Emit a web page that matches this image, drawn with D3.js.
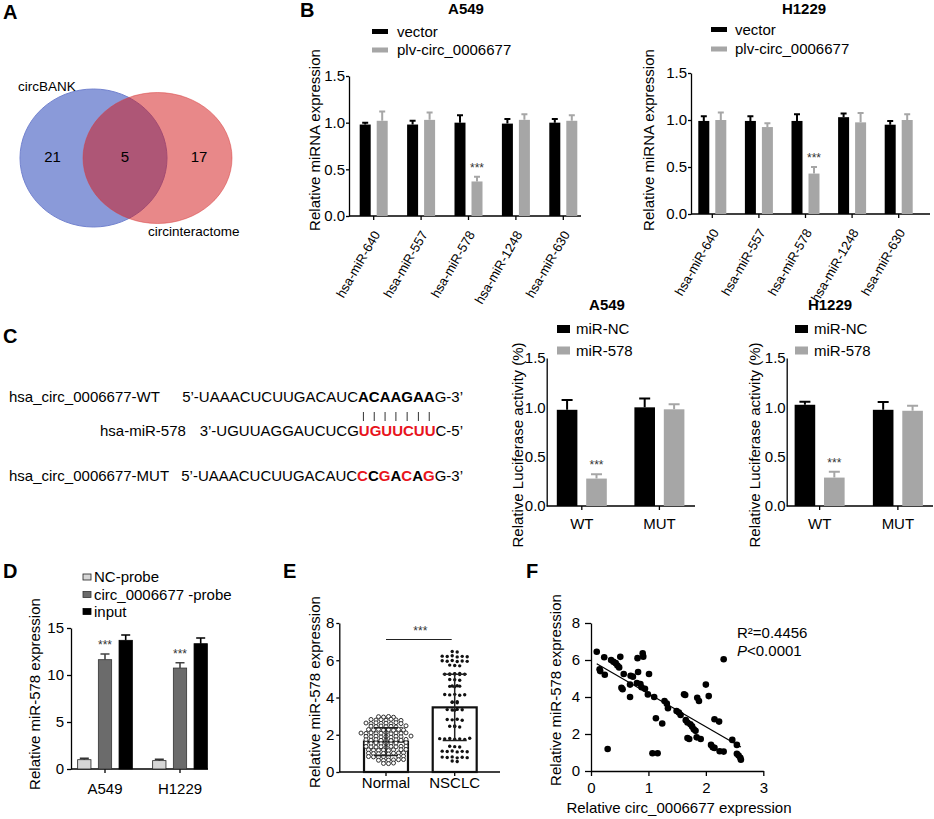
<!DOCTYPE html>
<html>
<head>
<meta charset="utf-8">
<script src="https://cdn.jsdelivr.net/npm/d3@7"></script>
<style>
    body { margin: 0; background: #fff; }
    svg { display: block; font-family: Arial, "Liberation Sans", sans-serif; }
    .axis path, .axis line { stroke: #000; stroke-width: 1.3; }
    .axis text { font-size: 15px; fill: #000; font-family: Arial, "Liberation Sans", sans-serif; }
</style>
</head>
<body>
<div id="figure"></div>
<script>
// ---------- data ----------
let vennSets = ['circBANK', 'circinteractome'];
let vennCounts = [21, 5, 17];

let bMirs = ['hsa-miR-640', 'hsa-miR-557', 'hsa-miR-578', 'hsa-miR-1248', 'hsa-miR-630'];
let bSeries = ['vector', 'plv-circ_0006677'];
let bTicks = [0, 0.5, 1.0, 1.5];
let bA549Vector = [0.98, 0.98, 1.00, 0.99, 1.00];
let bA549VectorErr = [0.02, 0.04, 0.08, 0.05, 0.04];
let bA549Plv = [1.02, 1.03, 0.37, 1.03, 1.02];
let bA549PlvErr = [0.10, 0.08, 0.05, 0.06, 0.06];
let bH1229Vector = [0.99, 0.99, 0.99, 1.03, 0.95];
let bH1229VectorErr = [0.05, 0.05, 0.07, 0.04, 0.04];
let bH1229Plv = [1.00, 0.925, 0.43, 0.975, 1.00];
let bH1229PlvErr = [0.08, 0.04, 0.07, 0.10, 0.06];
let bSig = ['hsa-miR-578'];

let cSeqLabels = ['hsa_circ_0006677-WT', 'hsa-miR-578', 'hsa_circ_0006677-MUT'];
// 0 = plain, 1 = bold, 2 = red bold
let cSeqParts = [
    [['5\u2019-UAAACUCUUGACAUC', 0], ['ACAAGAA', 1], ['G-3\u2019', 0]],
    [['3\u2019-UGUUAGGAUCUCG', 0], ['UGUUCUU', 2], ['C-5\u2019', 0]],
    [['5\u2019-UAAACUCUUGACAUC', 0], ['C', 2], ['C', 1], ['G', 2], ['A', 1], ['C', 2], ['A', 1], ['G', 2], ['G-3\u2019', 0]]
];

let cGroups = ['WT', 'MUT'];
let cSeries = ['miR-NC', 'miR-578'];
let cTicks = [0, 0.5, 1.0, 1.5];
let cA549NC = [0.975, 1.00];
let cA549NCErr = [0.10, 0.09];
let cA549Mir = [0.278, 0.98];
let cA549MirErr = [0.045, 0.05];
let cH1229NC = [1.026, 0.975];
let cH1229NCErr = [0.03, 0.08];
let cH1229Mir = [0.288, 0.965];
let cH1229MirErr = [0.06, 0.05];
let cSig = ['WT'];

let dGroups = ['A549', 'H1229'];
let dSeries = ['NC-probe', 'circ_0006677 -probe', 'input'];
let dTicks = [0, 5, 10, 15];
let dNC = [0.99, 0.89];
let dNCErr = [0.14, 0.14];
let dCirc = [11.63, 10.74];
let dCircErr = [0.60, 0.57];
let dInput = [13.69, 13.33];
let dInputErr = [0.57, 0.60];

let eGroups = ['Normal', 'NSCLC'];
let eTicks = [0, 2, 4, 6, 8];
let eMean = [1.63, 3.47];
let eSD = [0.74, 1.78];
let eNormal = [2.97, 2.95, 2.98, 2.94,
    2.82, 2.79, 2.81, 2.78, 2.83, 2.80, 2.77,
    2.63, 2.60, 2.64, 2.61, 2.62, 2.59, 2.65, 2.60,
    2.46, 2.44, 2.47, 2.43, 2.45, 2.48, 2.42,
    2.28, 2.26, 2.29, 2.25, 2.27, 2.30, 2.24, 2.28, 2.26,
    2.09, 2.07, 2.10, 2.06, 2.08, 2.11, 2.05, 2.09, 2.07, 2.10,
    1.91, 1.89, 1.92, 1.88, 1.90, 1.93, 1.87, 1.91, 1.89,
    1.73, 1.71, 1.74, 1.70, 1.72, 1.75, 1.69, 1.73, 1.71,
    1.55, 1.53, 1.56, 1.52, 1.54, 1.57, 1.51, 1.55,
    1.37, 1.35, 1.38, 1.34, 1.36, 1.39, 1.33, 1.37, 1.35,
    1.19, 1.17, 1.20, 1.16, 1.18, 1.21, 1.15, 1.19,
    1.01, 0.99, 1.02, 0.98, 1.00, 1.03, 0.97, 1.01,
    0.83, 0.81, 0.84, 0.80, 0.82, 0.85, 0.79,
    0.65, 0.63, 0.66, 0.62, 0.64, 0.67,
    0.48, 0.46, 0.45];
let eNSCLC = [6.47, 6.44,
    6.22, 6.20, 6.24, 6.18, 6.21, 6.19,
    5.97, 5.95, 5.99, 5.93, 5.96, 5.94,
    5.74, 5.72, 5.70,
    5.27, 5.25, 5.28, 5.24, 5.26, 5.23, 5.29, 5.25,
    4.97, 4.95, 4.93,
    4.62, 4.60, 4.63, 4.58, 4.61,
    4.16, 4.14, 4.17, 4.12, 4.15,
    3.76, 3.74, 3.77, 3.72,
    3.35, 3.33, 3.36, 3.31, 3.34,
    2.82, 2.80, 2.83, 2.78,
    2.46, 2.44, 2.47, 2.42,
    1.79, 1.77, 1.80, 1.76, 1.78, 1.75, 1.81,
    1.38, 1.36, 1.34,
    1.12, 1.10, 1.13, 1.08, 1.11, 1.09,
    0.80, 0.78, 0.81, 0.76, 0.79, 0.77,
    0.59, 0.56];

let fXTicks = [0, 1, 2, 3];
let fYTicks = [0, 2, 4, 6, 8];
let fX = [0.10, 0.23, 0.15, 0.16, 0.24, 0.35, 0.39, 0.43, 0.46, 0.49,
    0.51, 0.57, 0.53, 0.55, 0.68, 0.69, 0.73, 0.68, 0.81, 0.82,
    0.80, 0.86, 0.88, 0.90, 0.91, 0.94, 1.01, 0.99, 1.10, 1.13,
    1.24, 1.07, 1.16, 0.29, 1.28, 1.32, 1.34, 1.49, 1.53, 1.56,
    1.62, 1.64, 1.65, 1.68, 1.73, 1.76, 1.79, 1.82, 1.68, 1.71,
    1.85, 1.88, 1.84, 1.91, 2.00, 2.05, 2.09, 2.12, 2.15, 2.15,
    2.23, 2.24, 2.31, 2.31, 2.46, 2.54, 2.54, 2.57, 2.60, 2.61];
let fY = [6.45, 6.15, 5.50, 5.40, 5.20, 6.00, 5.90, 5.83, 5.70, 5.60,
    6.17, 5.24, 4.50, 4.42, 4.00, 5.15, 5.10, 4.67, 6.10, 5.35,
    4.76, 4.70, 4.53, 6.36, 6.18, 4.44, 5.24, 4.14, 4.00, 2.85,
    2.57, 0.96, 0.96, 1.19, 3.78, 3.64, 3.39, 3.24, 3.16, 3.03,
    4.15, 4.11, 2.75, 2.62, 2.53, 2.41, 2.26, 2.17, 1.78, 1.73,
    3.96, 3.78, 1.82, 1.73, 4.67, 4.05, 1.41, 1.28, 1.25, 2.80,
    2.67, 1.07, 1.05, 6.04, 1.68, 1.41, 0.93, 0.84, 0.71, 0.61];
let fR2 = '0.4456';
let fP = '<0.0001';

// ---------- helpers ----------
let svg = d3.select('#figure').append('svg')
    .attr('width', 934)
    .attr('height', 819);
svg.append('rect').attr('width', 934).attr('height', 819).attr('fill', '#fff');

let fmt1 = d3.format('.1f');
let fmt0 = d3.format('d');

function addText(x, y, str, size, opts) {
    opts = opts || {};
    return svg.append('text')
        .attr('x', x)
        .attr('y', y)
        .attr('text-anchor', opts.anchor || 'start')
        .attr('font-weight', opts.bold ? 'bold' : null)
        .attr('fill', opts.fill || '#000')
        .style('font-size', size + 'px')
        .text(str);
}

function yLabel(str, x, y) {
    svg.append('text')
        .attr('transform', 'translate(' + x + ',' + y + ') rotate(-90)')
        .attr('text-anchor', 'middle')
        .attr('dy', '0.35em')
        .style('font-size', '15px')
        .text(str);
}

function yAxis(y, x, ticks, f, size, pad) {
    return svg.append('g')
        .attr('class', 'axis')
        .attr('transform', 'translate(' + x + ',0)')
        .call(d3.axisLeft(y).tickValues(ticks).tickFormat(f)
            .tickSize(size).tickSizeOuter(0).tickPadding(pad));
}

function legend(items, fills, strokes, x, tx, ys, w, h) {
    items.forEach(function (s, i) {
        svg.append('rect')
            .attr('x', x).attr('y', ys[i] - h / 2)
            .attr('width', w).attr('height', h)
            .attr('fill', fills[i])
            .attr('stroke', strokes ? strokes[i] : 'none')
            .attr('stroke-width', 0.8);
        svg.append('text')
            .attr('x', tx).attr('y', ys[i]).attr('dy', '0.35em')
            .style('font-size', '15px')
            .text(s);
    });
}

// grouped bars with upper error bars
function barPanel(o) {
    let x = d3.scaleBand().domain(o.groups).range(o.xRange);
    let inner = d3.scaleBand().domain(o.series)
        .range([-o.groupW / 2, o.groupW / 2])
        .paddingInner(o.innerPad);
    let y = d3.scaleLinear().domain([0, d3.max(o.ticks)]).range(o.yRange);

    yAxis(y, o.axisX, o.ticks, o.fmt, o.yTick, o.yPad);

    let xa = svg.append('g')
        .attr('class', 'axis')
        .attr('transform', 'translate(0,' + y(0) + ')')
        .call(d3.axisBottom(x).tickSize(4).tickSizeOuter(0));
    xa.select('.domain').attr('d', 'M' + o.axisX + ',0H' + o.axisEnd);

    let bw = inner.bandwidth();
    o.series.forEach(function (s, si) {
        let left = function (d) { return x(d) + x.bandwidth() / 2 + inner(s); };
        let vals = o.values[si];
        let errs = o.errors[si];

        svg.selectAll(null)
            .data(o.groups)
            .enter()
            .append('rect')
            .attr('x', left)
            .attr('y', function (d, i) { return y(vals[i]); })
            .attr('width', bw)
            .attr('height', function (d, i) { return y(0) - y(vals[i]); })
            .attr('fill', o.fills[si])
            .attr('stroke', o.strokes ? o.strokes[si] : 'none')
            .attr('stroke-width', 0.8);

        svg.selectAll(null)
            .data(o.groups)
            .enter()
            .append('path')
            .attr('d', function (d, i) {
                let cx = left(d) + bw / 2;
                let top = y(vals[i] + errs[i]);
                return 'M' + cx + ',' + y(vals[i]) + 'V' + top +
                    'M' + (cx - o.capW / 2) + ',' + top + 'H' + (cx + o.capW / 2);
            })
            .attr('fill', 'none')
            .attr('stroke', o.errColors[si])
            .attr('stroke-width', o.errW);

        // *** on the significant series
        if (si === o.sigSeries) {
            o.groups.forEach(function (d, i) {
                if (o.sig.indexOf(d) < 0) return;
                svg.append('text')
                    .attr('x', left(d) + bw / 2)
                    .attr('y', y(vals[i] + errs[i]) - 5)
                    .attr('text-anchor', 'middle')
                    .attr('fill', '#333')
                    .style('font-size', '12px')
                    .text('***');
            });
        }
    });
    return xa;
}

// ---------- panel letters ----------
addText(3, 19, 'A', 20, { bold: true });
addText(300, 17, 'B', 20, { bold: true });
addText(3, 343, 'C', 20, { bold: true });
addText(3, 578, 'D', 20, { bold: true });
addText(283, 578, 'E', 20, { bold: true });
addText(526, 578, 'F', 20, { bold: true });

// ---------- A: venn ----------
svg.append('ellipse')
    .attr('cx', 93.5).attr('cy', 158).attr('rx', 73.5).attr('ry', 69)
    .attr('fill', '#8a9ad9').attr('stroke', '#7383cf').attr('stroke-width', 1);
svg.append('ellipse')
    .attr('cx', 157.5).attr('cy', 158).attr('rx', 74.5).attr('ry', 65.5)
    .attr('fill', 'rgb(210,18,20)').attr('fill-opacity', 0.5)
    .attr('stroke', 'rgba(215,60,60,0.5)').attr('stroke-width', 1);
addText(18, 91, vennSets[0], 13.5);
addText(148, 236, vennSets[1], 13.5);
[52.5, 125, 199].forEach(function (cx, i) {
    addText(cx, 162, vennCounts[i], 15, { anchor: 'middle' });
});

// ---------- B: two grouped bar charts ----------
let bPanels = [
    { x0: 350, x1: 587, axisX: 349, axisEnd: 581, yR: [216, 76], vec: bA549Vector, vecE: bA549VectorErr,
      plv: bA549Plv, plvE: bA549PlvErr, title: 'A549', tx: 466, lab: 315, lx: 372, ltx: 397, ly: [31.5, 50] },
    { x0: 689, x1: 922, axisX: 691, axisEnd: 930, yR: [214, 73], vec: bH1229Vector, vecE: bH1229VectorErr,
      plv: bH1229Plv, plvE: bH1229PlvErr, title: 'H1229', tx: 804, lab: 649, lx: 711, ltx: 735, ly: [29.5, 49] }
];
bPanels.forEach(function (p) {
    let xa = barPanel({
        groups: bMirs, series: bSeries, ticks: bTicks, fmt: fmt1,
        xRange: [p.x0, p.x1], yRange: p.yR, axisX: p.axisX, axisEnd: p.axisEnd,
        groupW: 28, innerPad: 0.353, yTick: 3, yPad: 1,
        values: [p.vec, p.plv], errors: [p.vecE, p.plvE],
        fills: ['#000', '#a6a6a6'], errColors: ['#000', '#a6a6a6'],
        capW: 6, errW: 2, sig: bSig, sigSeries: 1
    });
    xa.selectAll('.tick text')
        .attr('x', 0).attr('y', 0).attr('dy', '0.35em')
        .attr('text-anchor', 'end')
        .attr('transform', 'translate(3,16) rotate(-60)')
        .style('font-size', '13px');
    addText(p.tx, 14, p.title, 15, { anchor: 'middle', bold: true });
    yLabel('Relative miRNA expression', p.lab, 140);
    legend(bSeries, ['#000', '#a6a6a6'], null, p.lx, p.ltx, p.ly, 16, 5);
});

// ---------- C: binding sequences ----------
let seqY = [402, 436, 481];
let seqLabelX = [9, 100, 9];
let seqTexts = [];
cSeqParts.forEach(function (parts, r) {
    addText(seqLabelX[r], seqY[r], cSeqLabels[r], 15);
    let t = svg.append('text')
        .attr('x', 463).attr('y', seqY[r])
        .attr('text-anchor', 'end')
        .style('font-size', '15px');
    parts.forEach(function (p) {
        t.append('tspan')
            .attr('font-weight', p[1] ? 'bold' : null)
            .attr('fill', p[1] === 2 ? '#e8141c' : '#000')
            .text(p[0]);
    });
    seqTexts.push(t);
});
// pairing ticks under the bold seed of the WT row
(function () {
    let node = seqTexts[0].node();
    let start = cSeqParts[0][0][0].length;
    let n = cSeqParts[0][1][0].length;
    for (let i = 0; i < n; i++) {
        let box = node.getExtentOfChar(start + i);
        let cx = box.x + box.width / 2;
        svg.append('line')
            .attr('x1', cx).attr('x2', cx)
            .attr('y1', 412).attr('y2', 421)
            .attr('stroke', '#333').attr('stroke-width', 1);
    }
})();

// ---------- C: luciferase bars ----------
let cPanels = [
    { x0: 543, x1: 698.2, axisX: 546.7, axisEnd: 695, nc: cA549NC, ncE: cA549NCErr,
      mir: cA549Mir, mirE: cA549MirErr, title: 'A549', tx: 607, lab: 518, lx: 557, ltx: 576 },
    { x0: 780.5, x1: 937, axisX: 786.7, axisEnd: 933, nc: cH1229NC, ncE: cH1229NCErr,
      mir: cH1229Mir, mirE: cH1229MirErr, title: 'H1229', tx: 830, lab: 755, lx: 795, ltx: 814 }
];
cPanels.forEach(function (p) {
    let xa = barPanel({
        groups: cGroups, series: cSeries, ticks: cTicks, fmt: fmt1,
        xRange: [p.x0, p.x1], yRange: [506, 358], axisX: p.axisX, axisEnd: p.axisEnd,
        groupW: 50, innerPad: 0.3, yTick: 0, yPad: 1,
        values: [p.nc, p.mir], errors: [p.ncE, p.mirE],
        fills: ['#000', '#a6a6a6'], errColors: ['#000', '#a6a6a6'],
        capW: 11, errW: 2, sig: cSig, sigSeries: 1
    });
    xa.selectAll('.tick text').attr('y', 23).attr('dy', null);
    addText(p.tx, 310, p.title, 15, { anchor: 'middle', bold: true });
    yLabel('Relative Luciferase activity (%)', p.lab, 445);
    legend(cSeries, ['#000', '#a6a6a6'], null, p.lx, p.ltx, [329, 350.5], 13, 8);
});

// ---------- D: pull-down bars ----------
(function () {
    let xa = barPanel({
        groups: dGroups, series: dSeries, ticks: dTicks, fmt: fmt0,
        xRange: [67.5, 217.5], yRange: [769, 628], axisX: 71, axisEnd: 208,
        groupW: 54.7, innerPad: 0.357, yTick: 4, yPad: 3,
        values: [dNC, dCirc, dInput], errors: [dNCErr, dCircErr, dInputErr],
        fills: ['#d6d6d6', '#6b6b6b', '#000'], strokes: ['#222', '#333', '#000'],
        errColors: ['#333', '#444', '#000'],
        capW: 9, errW: 1.6, sig: dGroups, sigSeries: 1
    });
    xa.selectAll('.tick text').attr('y', 25).attr('dy', null);
    yLabel('Relative miR-578 expression', 35, 694);
    legend(dSeries, ['#d6d6d6', '#6b6b6b', '#000'], ['#222', '#333', '#000'], 83, 94, [577, 594.5, 611.5], 8, 6);
})();

// ---------- E: scatter dot bars ----------
(function () {
    let x = d3.scaleBand().domain(eGroups).range([351.65, 489.05])
        .paddingInner(0.36).paddingOuter(0.18);
    let y = d3.scaleLinear().domain([0, 8]).range([772, 623]);

    yAxis(y, 339.3, eTicks, fmt0, 3, 2);
    let xa = svg.append('g')
        .attr('class', 'axis')
        .attr('transform', 'translate(0,' + y(0) + ')')
        .call(d3.axisBottom(x).tickSize(4).tickSizeOuter(0));
    xa.select('.domain').attr('d', 'M339.3,0H500');
    xa.selectAll('.tick text').attr('y', 16).attr('dy', null);

    svg.selectAll(null)
        .data(eGroups)
        .enter()
        .append('rect')
        .attr('x', function (d) { return x(d); })
        .attr('y', function (d, i) { return y(eMean[i]); })
        .attr('width', x.bandwidth())
        .attr('height', function (d, i) { return y(0) - y(eMean[i]); })
        .attr('fill', '#fff')
        .attr('stroke', '#111')
        .attr('stroke-width', 2.2);

    // rows of dots, Prism style
    function rows(values, rowH, gap) {
        let byRow = d3.group(values, function (v) { return Math.round(y(v) / rowH); });
        let out = [];
        byRow.forEach(function (vs) {
            vs.forEach(function (v, i) {
                out.push({ v: v, dx: (i - (vs.length - 1) / 2) * gap });
            });
        });
        return out;
    }
    let cN = x('Normal') + x.bandwidth() / 2;
    let cT = x('NSCLC') + x.bandwidth() / 2;

    svg.selectAll(null)
        .data(rows(eNormal, 3.4, 5))
        .enter()
        .append('circle')
        .attr('cx', function (d) { return cN + d.dx; })
        .attr('cy', function (d) { return y(d.v); })
        .attr('r', 2)
        .attr('fill', '#fff')
        .attr('stroke', '#333')
        .attr('stroke-width', 1);

    svg.selectAll(null)
        .data(rows(eNSCLC, 4, 5))
        .enter()
        .append('circle')
        .attr('cx', function (d) { return cT + d.dx; })
        .attr('cy', function (d) { return y(d.v); })
        .attr('r', 1.7)
        .attr('fill', '#111');

    // mean +/- SD
    eGroups.forEach(function (g, i) {
        let cx = x(g) + x.bandwidth() / 2;
        let hi = y(eMean[i] + eSD[i]), lo = y(eMean[i] - eSD[i]);
        svg.append('path')
            .attr('d', 'M' + cx + ',' + hi + 'V' + lo +
                'M' + (cx - 12) + ',' + hi + 'H' + (cx + 12) +
                'M' + (cx - 12) + ',' + lo + 'H' + (cx + 12))
            .attr('fill', 'none')
            .attr('stroke', '#222')
            .attr('stroke-width', 1.5);
    });

    let ly = y(d3.max(eNSCLC)) - 12;
    svg.append('line')
        .attr('x1', cN).attr('x2', cT - 3)
        .attr('y1', ly).attr('y2', ly)
        .attr('stroke', '#222').attr('stroke-width', 1.2);
    svg.append('text')
        .attr('x', (cN + cT) / 2).attr('y', ly - 4)
        .attr('text-anchor', 'middle')
        .attr('fill', '#333')
        .style('font-size', '12px')
        .text('***');

    yLabel('Relative miR-578 expression', 315, 692);
})();

// ---------- F: correlation ----------
(function () {
    let x = d3.scaleLinear().domain([0, 3]).range([591, 763.3]);
    let y = d3.scaleLinear().domain([0, 8]).range([771, 623]);

    yAxis(y, 591, fYTicks, fmt0, 6, 5);
    let xa = svg.append('g')
        .attr('class', 'axis')
        .attr('transform', 'translate(0,' + y(0) + ')')
        .call(d3.axisBottom(x).tickValues(fXTicks).tickFormat(fmt0).tickSize(5).tickSizeOuter(0));
    xa.selectAll('.tick text').attr('y', 22).attr('dy', null);

    let pts = fX.map(function (v, i) { return [v, fY[i]]; });
    svg.selectAll(null)
        .data(pts)
        .enter()
        .append('circle')
        .attr('cx', function (d) { return x(d[0]); })
        .attr('cy', function (d) { return y(d[1]); })
        .attr('r', 3.3)
        .attr('fill', '#000');

    // least squares fit of the points
    let mx = d3.mean(fX), my = d3.mean(fY);
    let sxy = d3.sum(pts, function (d) { return (d[0] - mx) * (d[1] - my); });
    let sxx = d3.sum(fX, function (v) { return (v - mx) * (v - mx); });
    let k = sxy / sxx, b = my - k * mx;
    let xs = d3.extent(fX);
    svg.append('line')
        .attr('x1', x(xs[0])).attr('y1', y(k * xs[0] + b))
        .attr('x2', x(xs[1])).attr('y2', y(k * xs[1] + b))
        .attr('stroke', '#000').attr('stroke-width', 1.2);

    addText(737, 638, 'R\u00b2=' + fR2, 15);
    let pt = addText(737, 656, '', 15);
    pt.append('tspan').attr('font-style', 'italic').text('P');
    pt.append('tspan').text(fP);

    yLabel('Relative miR-578 expression', 556, 690);
    addText(679, 813, 'Relative circ_0006677 expression', 15, { anchor: 'middle' });
})();
</script>
</body>
</html>
